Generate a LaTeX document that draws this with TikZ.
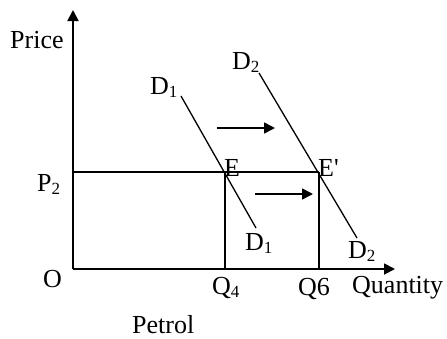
\documentclass[tikz,border=0pt]{standalone}
\usepackage{fontspec}
\setmainfont{Liberation Serif}
\usetikzlibrary{arrows.meta}
\newcommand\subx[1]{\raisebox{-3pt}{\fontsize{17}{17}\selectfont #1}}
\begin{document}
\begin{tikzpicture}[x=1pt,y=-1pt,
  axisline/.style={line width=1.8pt,-{Triangle[length=11pt,width=11pt]}},
  boxline/.style={line width=1.7pt},
  demand/.style={line width=1.3pt},
  shiftarrow/.style={line width=1.6pt,-{Triangle[length=11pt,width=11pt]}},
  lbl/.style={anchor=base west,inner sep=0pt,font=\fontsize{26}{26}\selectfont}]
\useasboundingbox (0,0) rectangle (447,338);
% coordinates
\coordinate (O) at (73,269);
\coordinate (ytop) at (73,10);
\coordinate (xend) at (395,269);
\coordinate (P2pt) at (73,172);
\coordinate (E) at (225,172);
\coordinate (Ep) at (319,172);
\coordinate (Q4pt) at (225,269);
\coordinate (Q6pt) at (319,269);
\coordinate (D1a) at (181,96);
\coordinate (D1b) at (256,228);
\coordinate (D2a) at (259,73);
\coordinate (D2b) at (357,238);
\coordinate (a1s) at (217,128);
\coordinate (a1e) at (275,128);
\coordinate (a2s) at (255,194);
\coordinate (a2e) at (313,194);
% axes
\draw[axisline] (O) -- (ytop);
\draw[axisline] (O) -- (xend);
% box lines
\draw[boxline] (P2pt) -- (Ep);
\draw[boxline] (E) -- (Q4pt);
\draw[boxline] (Ep) -- (Q6pt);
% demand curves
\draw[demand] (D1a) -- (D1b);
\draw[demand] (D2a) -- (D2b);
% shift arrows
\draw[shiftarrow] (a1s) -- (a1e);
\draw[shiftarrow] (a2s) -- (a2e);
% labels
\node[lbl] (price) at (10,48) {Price};
\node[lbl] (d1u) at (150,94) {D\subx{1}};
\node[lbl] (d2u) at (232,69) {D\subx{2}};
\node[lbl] (elab) at (224,176) {E};
\node[lbl] (eplab) at (318,176) {E\textquotesingle};
\node[lbl] (p2) at (37,191) {P\subx{2}};
\node[lbl] (olab) at (43,287) {O};
\node[lbl] (q4) at (212,294) {Q\subx{4}};
\node[lbl] (q6) at (298,295) {Q6};
\node[lbl] (qty) at (352,293) {Quantity};
\node[lbl] (d1l) at (245,250) {D\subx{1}};
\node[lbl] (d2l) at (348,258) {D\subx{2}};
\node[lbl,text depth=0pt] (petrol) at (132,333) {Petrol};
\end{tikzpicture}
\end{document}
